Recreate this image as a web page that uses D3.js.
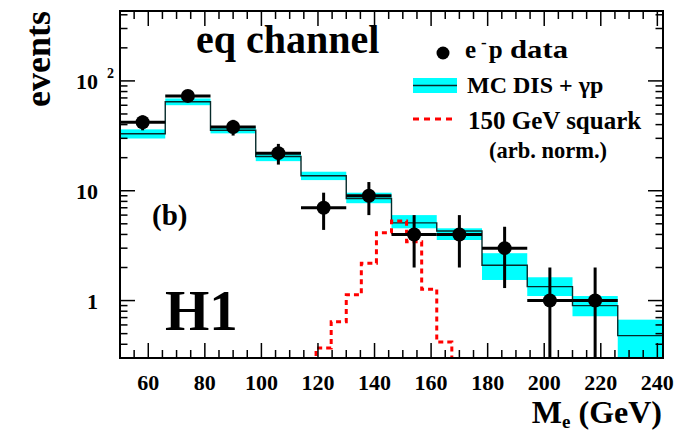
<!DOCTYPE html>
<html><head><meta charset="utf-8">
<script src="https://cdn.jsdelivr.net/npm/d3@7"></script>
<style>
body{margin:0;background:#fff}
svg{display:block}
text{font-family:"Liberation Serif","Times New Roman",serif;font-weight:bold;fill:#000}
</style>
</head><body>
<svg id="c" width="686" height="432"></svg>
<script>
// ---- data ----
const binEdges   = [50,66,82,98,114,130,146,162,178,194,210,226,242];
const dataCounts = [42,73,38,22,7,9,4,4,3,1,1,0];
const dataErrors = [6.5,8.5,6.2,4.7,2.6,3,2,2,1.7,1,1,0];
const mcValues   = [33,64.5,35.5,20.5,13.7,8.5,5.1,4.3,2.1,1.34,0.9,0.48];
const mcLow      = [29.9,60.1,33.3,18.6,12.5,7.7,4.55,3.56,1.54,1.10,0.72,0.25];
const mcHigh     = [36.2,69.2,38.2,21.9,14.9,9.6,6.0,4.55,2.70,1.63,1.10,0.67];
const squarkEdges  = [114,119.33,124.67,130,135.33,140.67,146,151.33,156.67,162,167.33,172.67];
const squarkValues = [0.1,0.37,0.64,1.13,2.19,4.15,5.3,3.44,1.27,0.42,0.1];
const xTickLabels = [60,80,100,120,140,160,180,200,220,240];
const yTickLabels = [1,10,100];

// ---- layout ----
const svg = d3.select("#c");
const L = 120, R = 663, T = 11, B = 358;
const x = d3.scaleLinear().domain([50,242]).range([L,R]);
const y = d3.scaleLog().domain([0.3,433]).range([B,T]);

svg.append("defs").append("clipPath").attr("id","clip")
  .append("rect").attr("x",L).attr("y",T).attr("width",R-L).attr("height",B-T);
const plot = svg.append("g").attr("clip-path","url(#clip)");

const bins = mcValues.map((v,i)=>({i, x0:binEdges[i], x1:binEdges[i+1], v, lo:mcLow[i], hi:mcHigh[i], n:dataCounts[i], e:dataErrors[i]}));

// MC error band
plot.selectAll("rect.band").data(bins).join("rect")
  .attr("x",d=>x(d.x0)).attr("width",d=>x(d.x1)-x(d.x0))
  .attr("y",d=>y(d.hi)).attr("height",d=>y(d.lo)-y(d.hi))
  .attr("fill","#00ffff");

// step helper
function stepPoints(edges, vals){
  const pts = [[x(edges[0]), B+5]];
  vals.forEach((v,i)=>{ pts.push([x(edges[i]), y(v)]); pts.push([x(edges[i+1]), y(v)]); });
  pts.push([x(edges[edges.length-1]), B+5]);
  return pts;
}
const line = d3.line();

// MC line
plot.append("path").attr("d", line(stepPoints(binEdges, mcValues)))
  .attr("fill","none").attr("stroke","#062a2a").attr("stroke-width",1.4);

// squark dashed
plot.append("path").attr("d", line(stepPoints(squarkEdges, squarkValues)))
  .attr("fill","none").attr("stroke","#ff0000").attr("stroke-width",3)
  .attr("stroke-dasharray","5,4");

// data
const dbins = bins.filter(d=>d.n>0);
const g = plot.append("g").attr("stroke","#000").attr("stroke-width",3);
g.selectAll("line.h").data(dbins).join("line")
  .attr("x1",d=>x(d.x0)).attr("x2",d=>x(d.x1))
  .attr("y1",d=>y(d.n)).attr("y2",d=>y(d.n));
g.selectAll("line.v").data(dbins).join("line")
  .attr("x1",d=>x((d.x0+d.x1)/2)).attr("x2",d=>x((d.x0+d.x1)/2))
  .attr("y1",d=>y(d.n+d.e)).attr("y2",d=> d.n-d.e>0.3 ? y(d.n-d.e) : B+5);
plot.selectAll("circle.pt").data(dbins).join("circle")
  .attr("cx",d=>x((d.x0+d.x1)/2)).attr("cy",d=>y(d.n)).attr("r",7).attr("fill","#000");

// ---- frame & ticks ----
const ax = svg.append("g").attr("stroke","#000").attr("stroke-width",1.5);
const xMinor = d3.range(55,242,5);
xMinor.forEach(v=>{
  const len = (v%20===0) ? 15 : 8;
  ax.append("line").attr("x1",x(v)).attr("x2",x(v)).attr("y1",B).attr("y2",B-len);
  ax.append("line").attr("x1",x(v)).attr("x2",x(v)).attr("y1",T).attr("y2",T+len);
});
const yMinor = [];
[0.1,1,10,100].forEach(dec=>{ for(let k=1;k<10;k++){ const v=dec*k; if(v>=0.3 && v<=433) yMinor.push(v);} });
yMinor.forEach(v=>{
  const major = yTickLabels.includes(v);
  const len = major ? 15 : 7.5;
  ax.append("line").attr("x1",L).attr("x2",L+len).attr("y1",y(v)).attr("y2",y(v));
  ax.append("line").attr("x1",R).attr("x2",R-len).attr("y1",y(v)).attr("y2",y(v));
});
svg.append("rect").attr("x",L).attr("y",T).attr("width",R-L).attr("height",B-T)
  .attr("fill","none").attr("stroke","#000").attr("stroke-width",2);

// tick labels
svg.selectAll("text.xt").data(xTickLabels).join("text")
  .attr("x",d=>x(d)).attr("y",389.5).attr("text-anchor","middle")
  .attr("font-size",22).text(d=>d);
yTickLabels.forEach(v=>{
  const t = svg.append("text").attr("x",98).attr("y",y(v)+8).attr("text-anchor","end").attr("font-size",22);
  if(v===100){
    t.text("10");
    svg.append("text").attr("x",107).attr("y",y(v)-3).attr("font-size",14).text("2");
  } else t.text(v);
});

// axis titles
svg.append("text").attr("transform","translate(50,59) rotate(-90)").attr("text-anchor","middle")
  .attr("font-size",36).text("events");
const xt = svg.append("text").attr("x",662).attr("y",422.5).attr("text-anchor","end").attr("font-size",32);
xt.append("tspan").text("M");
xt.append("tspan").attr("font-size",19).attr("dy",5).text("e");
xt.append("tspan").attr("dy",-5).text(" (GeV)");

// annotations
svg.append("text").attr("x",196).attr("y",53).attr("font-size",40).text("eq channel");
svg.append("text").attr("x",152).attr("y",225).attr("font-size",29).text("(b)");
svg.append("text").attr("x",165).attr("y",330).attr("font-size",57).text("H1");

// legend
svg.append("circle").attr("cx",443).attr("cy",53).attr("r",6.5).attr("fill","#000");
const l1 = svg.append("text").attr("x",465).attr("y",58).attr("font-size",25);
l1.append("tspan").text("e");
l1.append("tspan").attr("font-size",17).attr("dy",-10).attr("dx",5).text("-");
l1.append("tspan").attr("dy",10).attr("dx",2).text("p");
l1.append("tspan").attr("x",510).attr("textLength",58).attr("lengthAdjust","spacingAndGlyphs").text("data");

svg.append("rect").attr("x",413).attr("y",78).attr("width",44).attr("height",15).attr("fill","#00ffff");
svg.append("line").attr("x1",413).attr("x2",457).attr("y1",85.5).attr("y2",85.5).attr("stroke","#062a2a").attr("stroke-width",1.4);
svg.append("text").attr("x",467).attr("y",93).attr("font-size",24).text("MC DIS + γp");

svg.append("line").attr("x1",413).attr("x2",457).attr("y1",119).attr("y2",119)
  .attr("stroke","#ff0000").attr("stroke-width",3).attr("stroke-dasharray","6,5");
svg.append("text").attr("x",468).attr("y",129).attr("font-size",25).text("150 GeV squark");
svg.append("text").attr("x",489).attr("y",158).attr("font-size",22.5).text("(arb. norm.)");
</script>
</body></html>
